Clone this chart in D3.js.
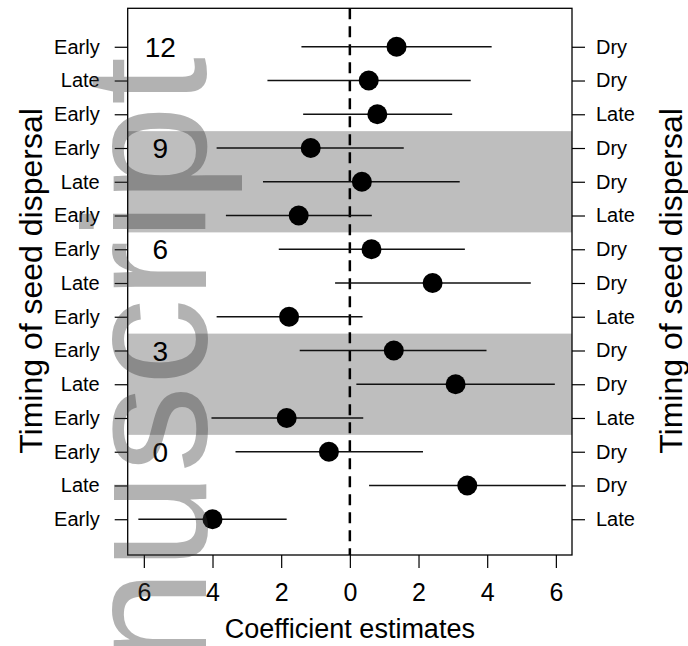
<!DOCTYPE html>
<html>
<head>
<meta charset="utf-8">
<script src="https://cdn.jsdelivr.net/npm/d3@7"></script>
<style>
  body { margin: 0; background: #fff; }
  text { font-family: "Liberation Sans", Arial, sans-serif; }
</style>
</head>
<body>
<script>
// rows from top to bottom
var leftLabels = ["Early", "Late", "Early", "Early", "Late", "Early", "Early", "Late",
  "Early", "Early", "Late", "Early", "Early", "Late", "Early"];
var rightLabels = ["Dry", "Dry", "Late", "Dry", "Dry", "Late", "Dry", "Dry",
  "Late", "Dry", "Dry", "Late", "Dry", "Dry", "Late"];
var estimates = [1.36, 0.55, 0.80, -1.14, 0.35, -1.49, 0.63, 2.41, -1.77, 1.28, 3.08, -1.84, -0.61, 3.42, -4.00];
var lower = [-1.41, -2.40, -1.36, -3.88, -2.53, -3.61, -2.07, -0.43, -3.88, -1.46, 0.19, -4.03, -3.33, 0.56, -6.16];
var upper = [4.13, 3.52, 2.98, 1.57, 3.20, 0.64, 3.35, 5.27, 0.37, 3.98, 5.97, 0.39, 2.13, 6.29, -1.84];
var groupNumbers = ["12", "9", "6", "3", "0"];
var groupRows = [0, 3, 6, 9, 12];
var bandStart = [3, 9];
var xTicks = [-6, -4, -2, 0, 2, 4, 6];

var width = 688;
var height = 646;
var box = {left: 127.7, right: 572, top: 8.3, bottom: 555};

var svg = d3.select("body")
  .append("svg")
  .attr("width", width)
  .attr("height", height);

var rows = d3.range(leftLabels.length);

var x = d3.scaleLinear()
  .domain([-6.47, 6.47])
  .range([box.left, box.right]);

var y = d3.scaleLinear()
  .domain([-1.14, 15.06])
  .range([box.top, box.bottom]);

// grey bands
svg.selectAll(".band")
  .data(bandStart)
  .enter().append("rect")
  .attr("class", "band")
  .attr("x", box.left)
  .attr("width", box.right - box.left)
  .attr("y", function(d) { return y(d - 0.5); })
  .attr("height", function(d) { return y(d + 2.5) - y(d - 0.5); })
  .attr("fill", "#bebebe");

// zero line
svg.append("line")
  .attr("x1", x(0)).attr("x2", x(0))
  .attr("y1", box.top).attr("y2", box.bottom)
  .attr("stroke", "#000")
  .attr("stroke-width", 2.5)
  .attr("stroke-dasharray", "11,7");

// confidence intervals
svg.selectAll(".ci")
  .data(rows)
  .enter().append("line")
  .attr("class", "ci")
  .attr("x1", function(i) { return x(lower[i]); })
  .attr("x2", function(i) { return x(upper[i]); })
  .attr("y1", function(i) { return y(i); })
  .attr("y2", function(i) { return y(i); })
  .attr("stroke", "#111")
  .attr("stroke-width", 1.6);

svg.selectAll(".pt")
  .data(rows)
  .enter().append("circle")
  .attr("class", "pt")
  .attr("cx", function(i) { return x(estimates[i]); })
  .attr("cy", function(i) { return y(i); })
  .attr("r", 10)
  .attr("fill", "#000");

// group numbers inside the plot
svg.selectAll(".grp")
  .data(groupRows)
  .enter().append("text")
  .attr("class", "grp")
  .attr("x", x(-5.52))
  .attr("y", function(d) { return y(d); })
  .attr("dy", "0.36em")
  .attr("text-anchor", "middle")
  .attr("font-size", "28px")
  .text(function(d, i) { return groupNumbers[i]; });

// frame
svg.append("rect")
  .attr("x", box.left)
  .attr("y", box.top)
  .attr("width", box.right - box.left)
  .attr("height", box.bottom - box.top)
  .attr("fill", "none")
  .attr("stroke", "#000")
  .attr("stroke-width", 1.3);

// axes
var leftAxis = svg.append("g")
  .attr("transform", "translate(" + box.left + ",0)")
  .call(d3.axisLeft(y).tickValues(rows).tickSize(13).tickPadding(15)
    .tickFormat(function(i) { return leftLabels[i]; }));

var rightAxis = svg.append("g")
  .attr("transform", "translate(" + box.right + ",0)")
  .call(d3.axisRight(y).tickValues(rows).tickSize(13).tickPadding(11)
    .tickFormat(function(i) { return rightLabels[i]; }));

var bottomAxis = svg.append("g")
  .attr("transform", "translate(0," + box.bottom + ")")
  .call(d3.axisBottom(x).tickValues(xTicks).tickSize(13).tickPadding(15)
    .tickFormat(function(d) { return Math.abs(d); }));

[leftAxis, rightAxis, bottomAxis].forEach(function(a) {
  a.select(".domain").remove();
  a.selectAll("line").attr("stroke", "#000").attr("stroke-width", 1.2);
  a.selectAll("text").attr("fill", "#000").attr("font-family", "Liberation Sans, Arial, sans-serif");
});
leftAxis.selectAll("text").attr("font-size", "20px");
rightAxis.selectAll("text").attr("font-size", "20px");
bottomAxis.selectAll("text").attr("font-size", "25px");

// titles
svg.append("text")
  .attr("x", x(0))
  .attr("y", 638)
  .attr("text-anchor", "middle")
  .attr("font-size", "27px")
  .text("Coefficient estimates");

svg.append("text")
  .attr("transform", "translate(42,281) rotate(-90)")
  .attr("text-anchor", "middle")
  .attr("font-size", "32px")
  .text("Timing of seed dispersal");

svg.append("text")
  .attr("transform", "translate(682,281) rotate(-90)")
  .attr("text-anchor", "middle")
  .attr("font-size", "32px")
  .text("Timing of seed dispersal");

// watermark (runs off the bottom edge, as in the source)
svg.append("text")
  .attr("transform", "translate(206,908) rotate(-90)")
  .attr("font-size", "174px")
  .attr("fill", "#373737")
  .attr("fill-opacity", 0.385)
  .attr("stroke", "#373737")
  .attr("stroke-opacity", 0)
  .text("Manuscript");
</script>
</body>
</html>
